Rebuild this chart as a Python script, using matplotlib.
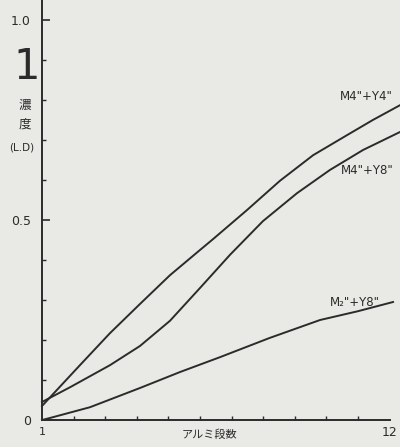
import matplotlib
matplotlib.use("Agg")
import matplotlib.pyplot as plt
from matplotlib.ticker import MultipleLocator

plt.rcParams['font.family'] = ['DejaVu Sans', 'Noto Sans CJK JP']

# Data (aluminium steps vs density)
x_m4y4 = [1.0, 2.2, 3.15, 4.1, 5.05, 6.0, 6.41, 7.49, 8.53, 9.58, 10.65, 11.47, 12.33]
y_m4y4 = [0.035, 0.137, 0.217, 0.29, 0.362, 0.425, 0.452, 0.525, 0.598, 0.662, 0.712, 0.75, 0.787]

x_m4y8 = [1.0, 1.89, 3.15, 4.1, 5.05, 6.0, 6.63, 6.95, 7.99, 9.07, 10.11, 11.16, 12.33]
y_m4y8 = [0.045, 0.082, 0.137, 0.185, 0.248, 0.33, 0.385, 0.413, 0.497, 0.567, 0.625, 0.675, 0.72]

x_m2y8 = [1.0, 1.25, 2.52, 4.1, 5.37, 6.63, 8.2, 9.8, 11.0, 12.11]
y_m2y8 = [0.0, 0.005, 0.032, 0.08, 0.12, 0.157, 0.205, 0.25, 0.272, 0.295]

series_labels = ['M4"+Y4"', 'M4"+Y8"', 'M₂"+Y8"']
bg = '#e9e9e6'
ink = '#2b2b2b'

fig = plt.figure(figsize=(4.0, 4.47), dpi=100, facecolor=bg)
ax = fig.add_axes([42 / 400, 27 / 447, 358 / 400, 420 / 447])
ax.set_facecolor(bg)

for xs, ys in [(x_m4y4, y_m4y4), (x_m4y8, y_m4y8), (x_m2y8, y_m2y8)]:
    ax.plot(xs, ys, color=ink, lw=1.4, clip_on=False)

ax.set_xlim(1, 12.33)
ax.set_ylim(0, 1.05)

for s in ['top', 'right']:
    ax.spines[s].set_visible(False)
ax.spines['bottom'].set_bounds(1, 12)
for s in ['left', 'bottom']:
    ax.spines[s].set_color(ink)
    ax.spines[s].set_linewidth(1.4)

ax.set_yticks([0, 0.5, 1.0])
ax.set_yticklabels(['0', '0.5', '1.0'])
ax.yaxis.set_minor_locator(MultipleLocator(0.1))
ax.tick_params(axis='y', which='major', direction='in', length=6, width=1.2,
               colors=ink, labelsize=9, pad=8)
ax.tick_params(axis='y', which='minor', direction='in', length=3, width=1.0, colors=ink)

ax.set_xticks(range(2, 12))
ax.set_xticklabels([])
ax.tick_params(axis='x', which='major', direction='in', length=3, width=1.0, colors=ink)

ax.text(1, -0.03, '1', ha='center', va='center', fontsize=8, color=ink)
ax.text(12, -0.03, '12', ha='center', va='center', fontsize=9, color=ink)
ax.text(6.3, -0.037, 'アルミ段数', ha='center', va='center', fontsize=8, color=ink)

# y axis caption
fig.text(27 / 400, 1 - 67 / 447, '1', ha='center', va='center', fontsize=30,
         color=ink)
fig.text(25 / 400, 1 - 105 / 447, '濃', ha='center', va='center', fontsize=9, color=ink)
fig.text(25 / 400, 1 - 124 / 447, '度', ha='center', va='center', fontsize=9, color=ink)
fig.text(22 / 400, 1 - 147 / 447, '(L.D)', ha='center', va='center', fontsize=7.5, color=ink)

# curve labels
ax.text(11.25, 0.81, series_labels[0], ha='center', va='center', fontsize=8.5, color=ink)
ax.text(11.3, 0.625, series_labels[1], ha='center', va='center', fontsize=8.5, color=ink)
ax.text(10.9, 0.295, series_labels[2], ha='center', va='center', fontsize=8.5, color=ink)

fig.savefig('out.png', dpi=100, facecolor=bg)
